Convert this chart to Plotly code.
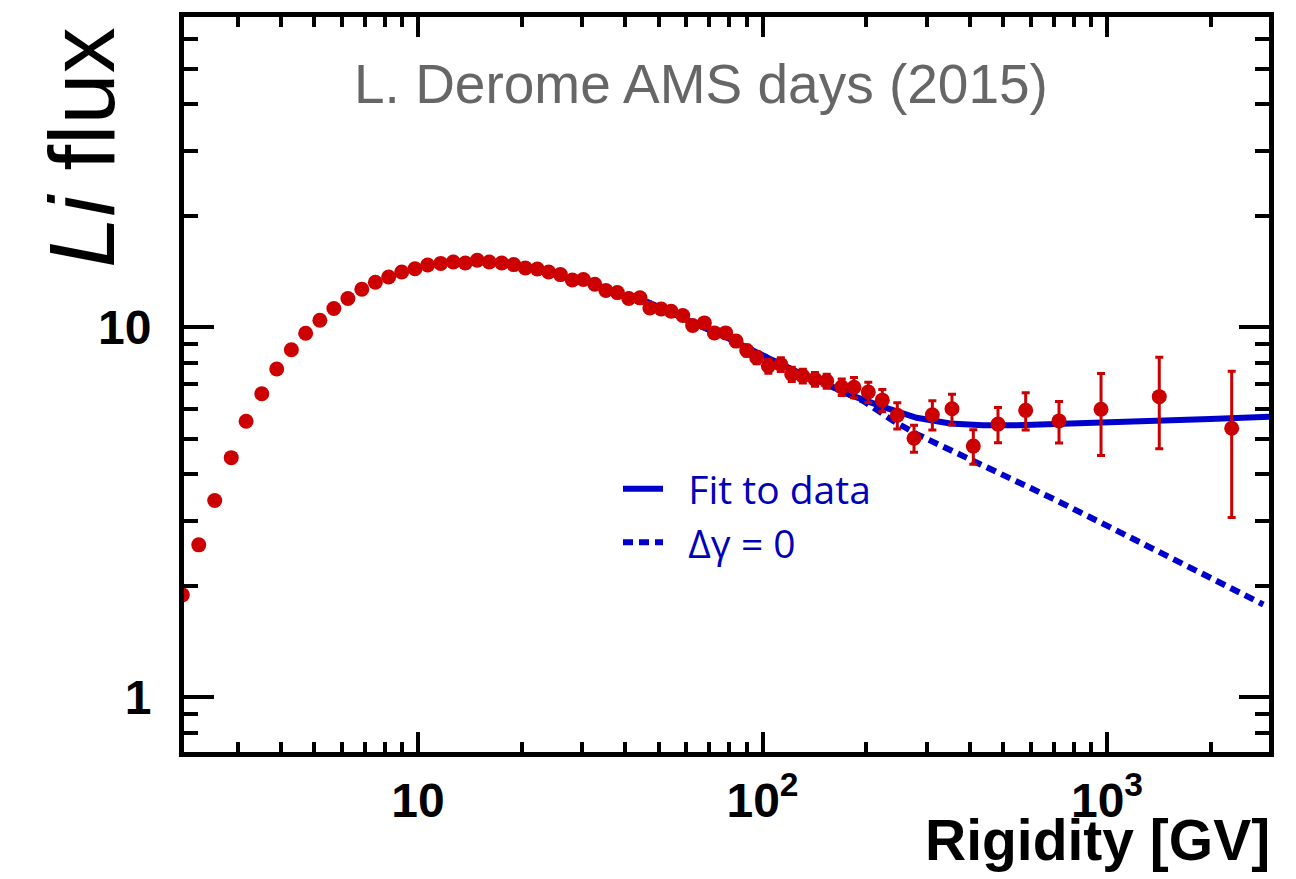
import plotly.graph_objects as go

# ---- data ----
rigidity = [2.07, 2.31, 2.57, 2.87, 3.17, 3.52, 3.89, 4.29, 4.72, 5.19,
            5.70, 6.26, 6.87, 7.52, 8.22, 8.97, 9.80, 10.67, 11.64, 12.66,
            13.72, 14.86, 16.1, 17.5, 18.96, 20.5, 22.2, 23.95, 25.9, 28.05,
            30.2, 32.6, 35.1, 37.9, 40.9, 44.1, 47.1, 50.8, 54.3, 58.7,
            62.7, 67.8, 72.5, 78.2, 83.8, 90.0, 96.2, 104, 113, 121.6,
            130.9, 142, 153.6, 169.8, 184.3, 202.8, 222.7, 246.2, 275.3, 311.2,
            354.8, 409.2, 482.6, 580.7, 725.6, 960.8, 1418, 2301]
flux = [1.89, 2.58, 3.40, 4.44, 5.57, 6.61, 7.71, 8.69, 9.63, 10.44,
        11.23, 11.95, 12.66, 13.22, 13.66, 14.09, 14.39, 14.72, 14.87, 15.0,
        14.91, 15.16, 15.0, 14.91, 14.76, 14.45, 14.36, 14.09, 13.87, 13.41,
        13.45, 13.06, 12.56, 12.4, 11.95, 12.0, 11.27, 11.2, 11.04, 10.75,
        10.1, 10.27, 9.65, 9.65, 9.17, 8.65, 8.27, 7.85, 7.93, 7.46,
        7.38, 7.23, 7.15, 6.89, 6.88, 6.68, 6.35, 5.78, 5.01, 5.80,
        6.02, 4.77, 5.47, 5.96, 5.58, 6.0, 6.49, 5.33]
flux_err = [0.04, 0.05, 0.06, 0.07, 0.08, 0.09, 0.10, 0.10, 0.11, 0.11,
            0.12, 0.12, 0.13, 0.13, 0.13, 0.14, 0.14, 0.14, 0.15, 0.15,
            0.15, 0.15, 0.15, 0.15, 0.15, 0.15, 0.15, 0.15, 0.15, 0.15,
            0.15, 0.15, 0.15, 0.16, 0.16, 0.17, 0.18, 0.19, 0.20, 0.22,
            0.23, 0.24, 0.26, 0.27, 0.28, 0.29, 0.31, 0.34, 0.34, 0.33,
            0.32, 0.31, 0.31, 0.35, 0.43, 0.42, 0.44, 0.47, 0.42, 0.53,
            0.57, 0.51, 0.60, 0.69, 0.72, 1.50, 1.80, 2.27]

fit_R = [40.4, 50.4, 62.9, 78.3, 98.3, 122.6, 153.6, 179.5, 223.8, 280.3,
         350.2, 436.6, 547, 683.3, 851.8, 1333, 1991, 2973]
fit_F = [12.3, 11.32, 10.27, 9.40, 8.46, 7.66, 7.01, 6.56, 6.09, 5.69,
         5.49, 5.43, 5.43, 5.46, 5.49, 5.58, 5.65, 5.73]

nobreak_R = [40.4, 50.4, 62.9, 78.3, 98.3, 122.6, 153.6, 179.5, 196.2, 239.8,
             280.3, 409.2, 683.3, 1067, 1666, 2843]
nobreak_F = [12.3, 11.32, 10.27, 9.40, 8.46, 7.66, 7.01, 6.56, 6.32, 5.58,
             5.14, 4.35, 3.47, 2.82, 2.29, 1.78]

x_major = [10, 100, 1000]
x_major_text = ["10", "10<sup>2</sup>", "10<sup>3</sup>"]
x_minor = [3, 4, 5, 6, 7, 8, 9, 20, 30, 40, 50, 60, 70, 80, 90,
           200, 300, 400, 500, 600, 700, 800, 900, 2000]
y_major = [1, 10]
y_major_text = ["1", "10"]
y_minor = [0.8, 0.9, 2, 3, 4, 5, 6, 7, 8, 9, 20, 30, 40, 50, 60, 70]

RED = "#cc0000"
BLUE = "#0000cc"

fig = go.Figure()

fig.add_trace(go.Scatter(
    x=nobreak_R, y=nobreak_F, mode="lines", name="\u00a0\u00a0\u0394\u03b3 = 0",
    line=dict(color=BLUE, width=6, dash="10px,6px"), legendrank=2,
))
fig.add_trace(go.Scatter(
    x=fit_R, y=fit_F, mode="lines", name="\u00a0\u00a0Fit to data",
    line=dict(color=BLUE, width=6), legendrank=1,
))
fig.add_trace(go.Scatter(
    x=rigidity, y=flux, mode="markers", showlegend=False,
    marker=dict(color=RED, size=15),
    error_y=dict(type="data", array=flux_err, color=RED, thickness=3, width=4),
))

L, R, T, B = 184, 27, 15, 127

axis_common = dict(
    type="log", showgrid=False, zeroline=False,
    showline=True, linecolor="black", linewidth=5, mirror="allticks",
    ticks="inside", tickcolor="black", tickwidth=4,
    tickmode="array",
    tickfont=dict(family="Liberation Sans", size=48, color="black", weight="bold"),
)

fig.update_xaxes(
    **axis_common,
    range=[0.3208, 3.4702],
    tickvals=x_major, ticktext=x_major_text, ticklen=20,
    minor=dict(tickmode="array", tickvals=x_minor, ticks="inside", ticklen=10,
               tickwidth=4, tickcolor="black", showgrid=False),
    ticklabelstandoff=2,
)
fig.update_yaxes(
    **axis_common,
    range=[-0.1482, 1.8383],
    tickvals=y_major, ticktext=y_major_text, ticklen=30,
    minor=dict(tickmode="array", tickvals=y_minor, ticks="inside", ticklen=14,
               tickwidth=4, tickcolor="black", showgrid=False),
    ticklabelstandoff=18,
)

def px_x(p):
    return (p - L) / (1296 - L - R)

def px_y(p):
    return (879 - B - p) / (879 - B - T)

fig.add_annotation(
    text="L. Derome AMS days (2015)", xref="paper", yref="paper",
    x=px_x(701), y=px_y(82), xanchor="center", yanchor="middle",
    showarrow=False, font=dict(family="Liberation Sans", size=55, color="#666666"),
)
fig.add_annotation(
    text="<i>Li</i> flux", xref="paper", yref="paper",
    x=px_x(82), y=px_y(146), xanchor="center", yanchor="middle", textangle=-90,
    showarrow=False, font=dict(family="Liberation Sans", size=92, color="black"),
)
fig.add_annotation(
    text="<b>Rigidity [GV]</b>", xref="paper", yref="paper",
    x=px_x(1272), y=px_y(840), xanchor="right", yanchor="middle",
    showarrow=False, font=dict(family="Liberation Sans", size=57, color="black"),
)

fig.update_layout(
    width=1296, height=879,
    margin=dict(l=L, r=R, t=T, b=B),
    paper_bgcolor="white", plot_bgcolor="white",
    showlegend=True,
    legend=dict(
        x=px_x(618), y=px_y(456), xanchor="left", yanchor="top",
        bgcolor="rgba(0,0,0,0)", borderwidth=0,
        font=dict(family="Open Sans", size=39, color="#0000bb"),
        traceorder="normal", itemwidth=40,
    ),
)

fig.write_html("out.html")
